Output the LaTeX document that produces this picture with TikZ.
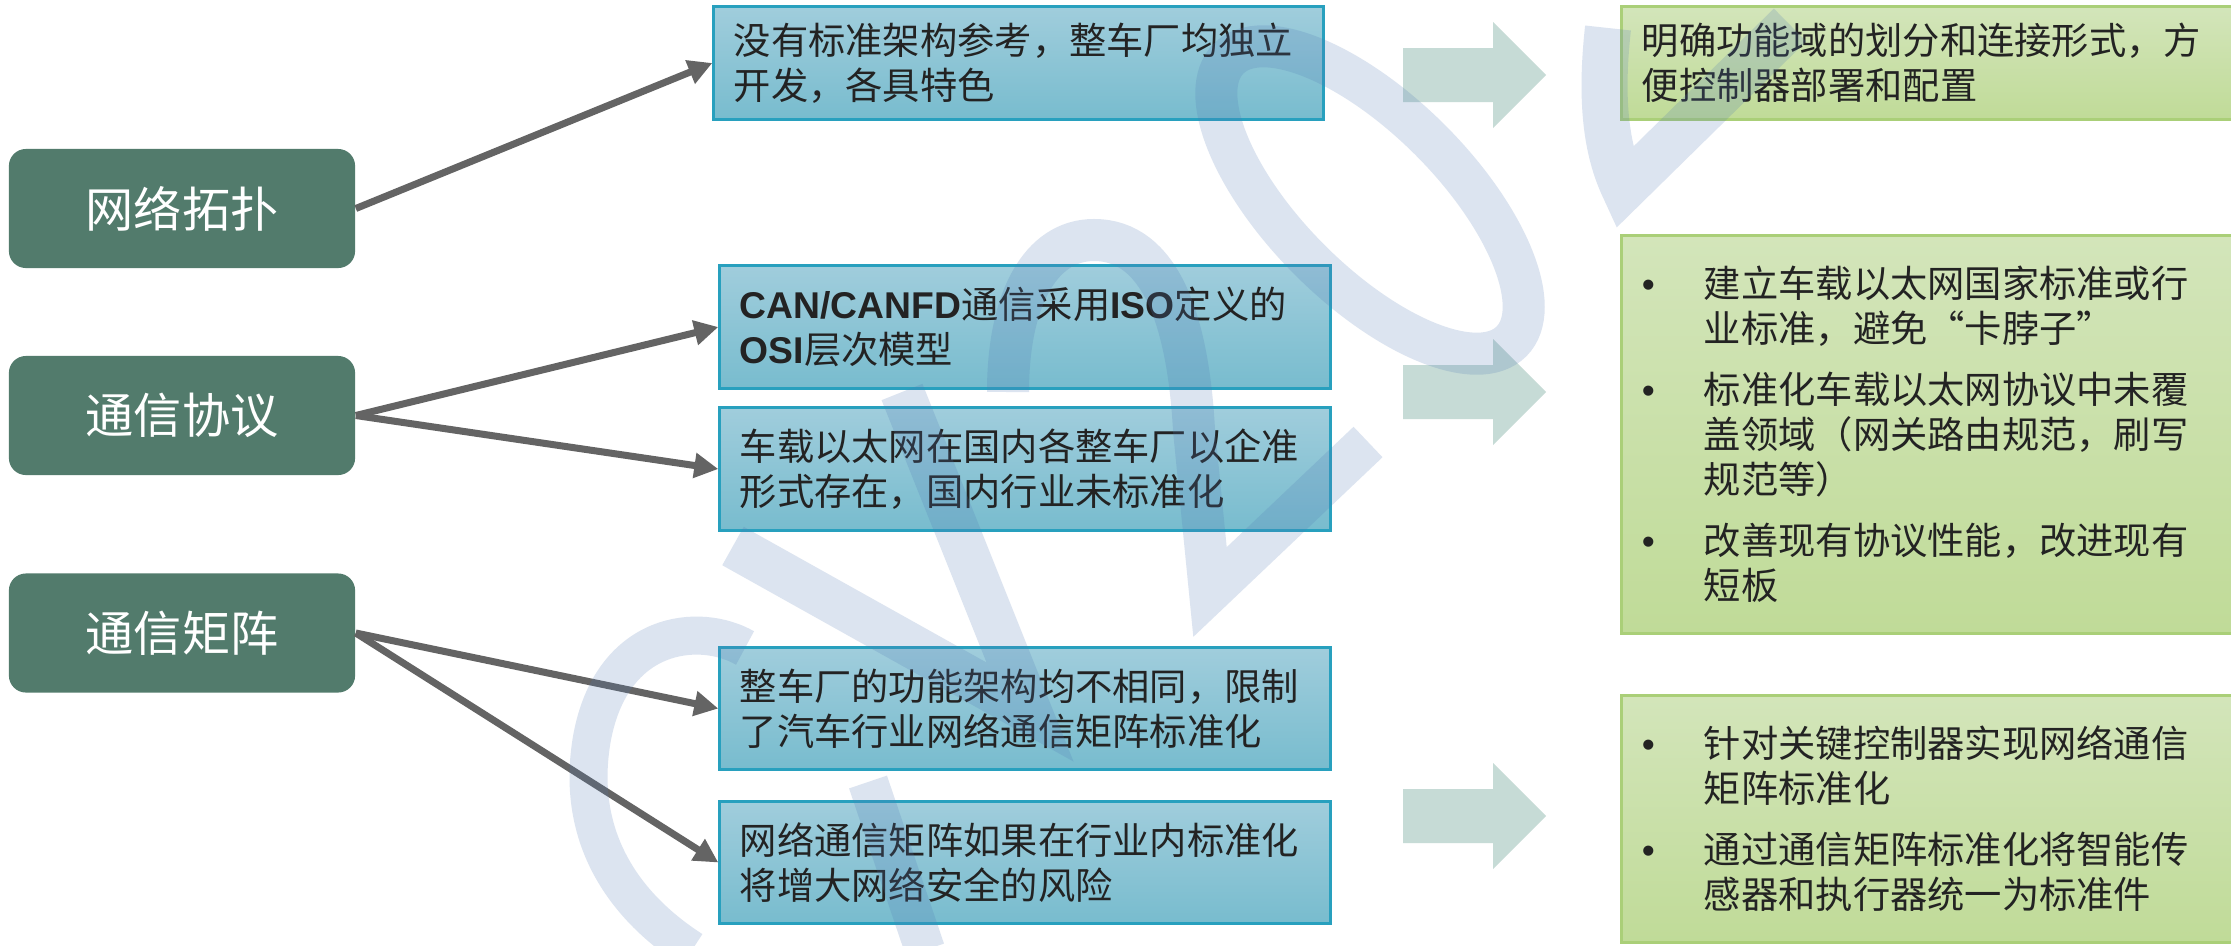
\documentclass[tikz,border=0pt]{standalone}
\usepackage{fontspec}
\setmainfont{Noto Sans CJK SC}
\newfontfamily\lat{Liberation Sans}
\usetikzlibrary{arrows.meta}
\definecolor{titlegreen}{RGB}{82,123,108}
\definecolor{bluetop}{RGB}{160,205,220}
\definecolor{bluebot}{RGB}{120,188,206}
\definecolor{blueline}{RGB}{40,160,190}
\definecolor{greentop}{RGB}{211,229,186}
\definecolor{greenbot}{RGB}{192,219,152}
\definecolor{greenline}{RGB}{170,207,120}
\definecolor{bigarrowcol}{RGB}{198,219,214}
\definecolor{conncol}{RGB}{100,100,100}
\definecolor{wmark}{RGB}{80,120,180}
\definecolor{txt}{RGB}{35,35,35}
\newcommand\mybody{\fontsize{10.6pt}{12.8pt}\selectfont}
\newcommand\mybul{\makebox[0.62cm][l]{\lat •}}
\newcommand\myind{\hspace*{0.62cm}}
\begin{document}
\begin{tikzpicture}[x=0.01cm,y=-0.01cm,
  titlebox/.style={rounded corners=0.17cm, fill=titlegreen, text=white,
    minimum width=3.46cm, minimum height=1.19cm, inner sep=0pt,
    font=\fontsize{13.7pt}{16pt}\selectfont},
  bluebox/.style={draw=blueline, line width=0.03cm, top color=bluetop, bottom color=bluebot,
    minimum width=6.1cm, minimum height=1.22cm, text width=5.7cm, inner xsep=0.2cm,
    inner ysep=0pt, align=left, text=txt, font=\mybody},
  greenbox/.style={draw=greenline, line width=0.03cm, top color=greentop, bottom color=greenbot,
    minimum width=6.2cm, text width=5.8cm, inner xsep=0.2cm, inner ysep=0pt,
    align=left, text=txt, font=\mybody},
  connarrow/.style={draw=conncol, line width=0.07cm,
    -{Triangle[length=0.24cm,width=0.24cm]}, fill=conncol},
  wm/.style={draw=wmark, opacity=0.2, line join=miter, miter limit=20}
]
\useasboundingbox (0,0) rectangle (2231,945);
\fill[white] (0,0) rectangle (2231,945);

% big arrows
\foreach \cy in {75,392,816}{
  \fill[bigarrowcol] (1403,\cy-27) -- (1493,\cy-27) -- (1493,\cy-53) -- (1546,\cy)
    -- (1493,\cy+53) -- (1493,\cy+27) -- (1403,\cy+27) -- cycle;
}

% left title boxes
\node[titlebox] (t1) at (182,208.5) {网络拓扑};
\node[titlebox] (t2) at (182,415.5) {通信协议};
\node[titlebox] (t3) at (182,633) {通信矩阵};

% blue boxes
\node[bluebox, minimum width=6.09cm, minimum height=1.12cm, text width=5.69cm] (b1) at (1018.5,63)
  {没有标准架构参考，整车厂均独立\\开发，各具特色};
\node[bluebox] (b2) at (1025,327)
  {{\lat\bfseries CAN/CANFD}通信采用{\lat\bfseries ISO}定义的\\{\lat\bfseries OSI}层次模型};
\node[bluebox] (b3) at (1025,469)
  {车载以太网在国内各整车厂以企准\\形式存在，国内行业未标准化};
\node[bluebox] (b4) at (1025,708.5)
  {整车厂的功能架构均不相同，限制\\了汽车行业网络通信矩阵标准化};
\node[bluebox] (b5) at (1025,862.5)
  {网络通信矩阵如果在行业内标准化\\将增大网络安全的风险};

% green boxes
\node[greenbox, minimum height=1.12cm] (g1) at (1932,63)
  {明确功能域的划分和连接形式，方\\便控制器部署和配置};
\node[greenbox, minimum height=3.97cm] (g2) at (1932,434.5)
  {\mybul 建立车载以太网国家标准或行\\\myind 业标准，避免“卡脖子”\\[0.16cm]%
   \mybul 标准化车载以太网协议中未覆\\\myind 盖领域（网关路由规范，刷写\\\myind 规范等）\\[0.16cm]%
   \mybul 改善现有协议性能，改进现有\\\myind 短板};
\node[greenbox, minimum height=2.46cm] (g3) at (1932,819)
  {\mybul 针对关键控制器实现网络通信\\\myind 矩阵标准化\\[0.16cm]%
   \mybul 通过通信矩阵标准化将智能传\\\myind 感器和执行器统一为标准件};

% connectors
\draw[connarrow] (t1.east) -- (b1.west);
\draw[connarrow] (t2.east) -- (b2.west);
\draw[connarrow] (t2.east) -- (b3.west);
\draw[connarrow] (t3.east) -- (b4.west);
\draw[connarrow] (t3.east) -- (b5.west);

% watermark
\draw[wm, line width=0.38cm] (745,648) .. controls (700,622) and (612,630) .. (592,738)
  .. controls (575,835) and (622,905) .. (692,950);
\draw[wm, line width=0.40cm] (868,782) -- (925,950);
\draw[wm, line width=0.44cm] (733,546) -- (1030,712) -- (902,392);
\draw[wm, line width=0.42cm] (1008,392) .. controls (1008,300) and (1040,240) .. (1094,240)
  .. controls (1160,240) and (1188,320) .. (1194,430) -- (1210,592) -- (1368,442);
\draw[wm, line width=0.42cm, rotate around={-45:(1370,200)}] (1370,200) ellipse [x radius=200, y radius=85];
\draw[wm, line width=0.46cm] (1608,28) .. controls (1600,100) and (1606,150) .. (1624,188) -- (1790,25);
\end{tikzpicture}
\end{document}
